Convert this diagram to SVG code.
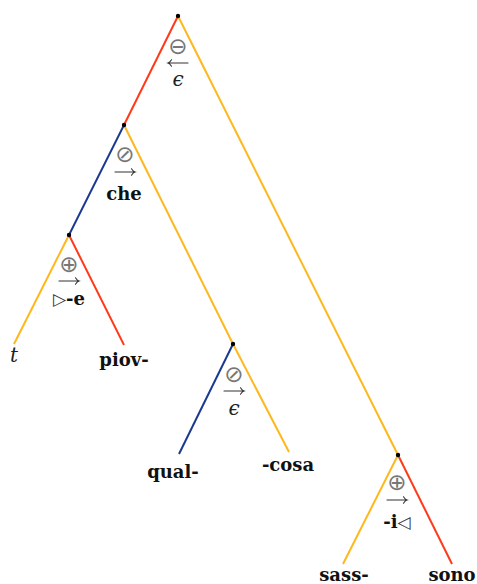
<svg xmlns="http://www.w3.org/2000/svg" width="477" height="584" viewBox="0 0 477 584">
<style>
.e{stroke-width:2;fill:none;stroke-linecap:butt}
.r{stroke:#ff3a1a}
.o{stroke:#ffb81c}
.b{stroke:#1a3a8f}
.lab{font-family:"DejaVu Serif",serif;font-weight:bold;font-size:18px;fill:#111;text-anchor:middle}
.sym{font-family:"DejaVu Sans",sans-serif;font-size:23px;fill:#777;text-anchor:middle}
.tri{font-family:"DejaVu Sans",sans-serif;font-weight:normal;font-size:17px;fill:#333}
.eps{font-family:"DejaVu Serif",serif;font-style:italic;font-size:20px;fill:#222;text-anchor:middle}
.arrow{stroke:#333;stroke-width:1.1;fill:none;stroke-linecap:round}
.dot{fill:#000}
</style>
<defs>
<g id="ra"><path class="arrow" d="M-10,0 H10 M6.5,-3.2 Q8,-0.6 10,0 Q8,0.6 6.5,3.2"/></g>
<g id="la"><path class="arrow" d="M10,0 H-10 M-6.5,-3.2 Q-8,-0.6 -10,0 Q-8,0.6 -6.5,3.2"/></g>
</defs>
<g id="connectors">
<line class="e r" x1="178" y1="16" x2="124" y2="125"/>
<line class="e o" x1="178" y1="16" x2="398" y2="455"/>
<line class="e b" x1="124" y1="125" x2="69" y2="235"/>
<line class="e o" x1="124" y1="125" x2="233" y2="344"/>
<line class="e o" x1="69" y1="235" x2="14" y2="344"/>
<line class="e r" x1="69" y1="235" x2="124" y2="345"/>
<line class="e b" x1="233" y1="344" x2="179" y2="454"/>
<line class="e o" x1="233" y1="344" x2="289" y2="452"/>
<line class="e o" x1="398" y1="455" x2="343" y2="564"/>
<line class="e r" x1="398" y1="455" x2="452" y2="564"/>
</g>
<g id="n0">
<circle class="dot" cx="178" cy="16" r="2.2"/>
<text class="sym" x="178" y="54">⊖</text>
<use href="#la" x="178" y="63"/>
<text class="eps" x="178" y="86">ϵ</text>
</g>
<g id="n1">
<circle class="dot" cx="124" cy="125" r="2.2"/>
<text class="sym" x="125" y="162">⊘</text>
<use href="#ra" x="125" y="172"/>
<text class="lab" x="124" y="200">che</text>
</g>
<g id="n2">
<circle class="dot" cx="69" cy="235" r="2.2"/>
<text class="sym" x="69" y="272">⊕</text>
<use href="#ra" x="69" y="281"/>
<text class="lab" x="69" y="305"><tspan class="tri">▷</tspan>-e</text>
</g>
<g id="n3">
<circle class="dot" cx="233" cy="344" r="2.2"/>
<text class="sym" x="234" y="382">⊘</text>
<use href="#ra" x="234" y="391"/>
<text class="eps" x="234" y="415">ϵ</text>
</g>
<g id="n4">
<circle class="dot" cx="398" cy="455" r="2.2"/>
<text class="sym" x="397" y="490">⊕</text>
<use href="#ra" x="397" y="500"/>
<text class="lab" x="397" y="528">-i<tspan class="tri">◁</tspan></text>
</g>
<g id="leaf-t"><text x="14" y="362" font-family="DejaVu Serif" font-style="italic" font-size="20" fill="#222" text-anchor="middle">t</text></g>
<g id="leaf-piov"><text class="lab" x="124" y="366">piov-</text></g>
<g id="leaf-qual"><text class="lab" x="173" y="478">qual-</text></g>
<g id="leaf-cosa"><text class="lab" x="288" y="471">-cosa</text></g>
<g id="leaf-sass"><text class="lab" x="344" y="581">sass-</text></g>
<g id="leaf-sono"><text class="lab" x="452" y="581">sono</text></g>
</svg>
